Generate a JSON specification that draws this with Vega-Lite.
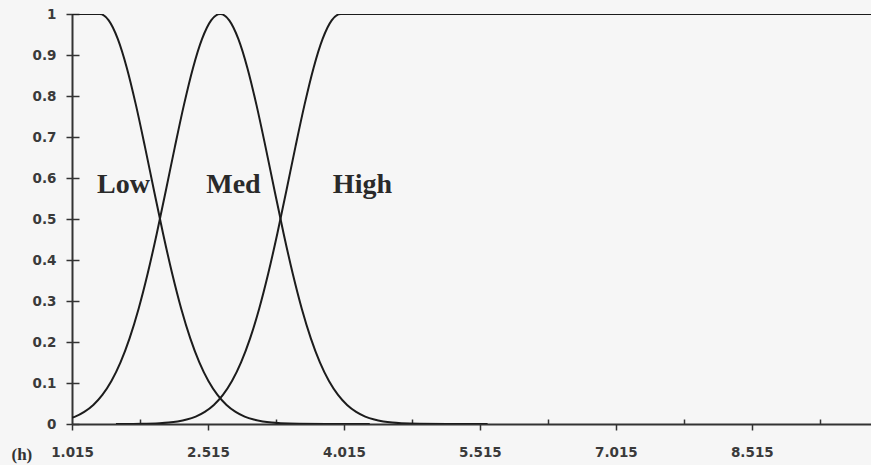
{
  "$schema": "https://vega.github.io/schema/vega-lite/v6.json",
  "autosize": "none",
  "width": 799,
  "height": 410,
  "padding": {"left": 72, "top": 14, "right": 0, "bottom": 41},
  "background": "#f6f6f6",
  "config": {"view": {"stroke": null}},
  "datasets": {
    "curves": [
      {"set": "Low", "x": 1.015, "mu": 1},
      {"set": "Low", "x": 1.32, "mu": 1},
      {"set": "Low", "x": 1.42, "mu": 0.9845},
      {"set": "Low", "x": 1.52, "mu": 0.9393},
      {"set": "Low", "x": 1.62, "mu": 0.8685},
      {"set": "Low", "x": 1.72, "mu": 0.7783},
      {"set": "Low", "x": 1.82, "mu": 0.676},
      {"set": "Low", "x": 1.92, "mu": 0.569},
      {"set": "Low", "x": 2.02, "mu": 0.4642},
      {"set": "Low", "x": 2.12, "mu": 0.367},
      {"set": "Low", "x": 2.22, "mu": 0.2812},
      {"set": "Low", "x": 2.32, "mu": 0.2089},
      {"set": "Low", "x": 2.42, "mu": 0.1503},
      {"set": "Low", "x": 2.52, "mu": 0.1048},
      {"set": "Low", "x": 2.62, "mu": 0.0709},
      {"set": "Low", "x": 2.72, "mu": 0.0464},
      {"set": "Low", "x": 2.82, "mu": 0.0295},
      {"set": "Low", "x": 2.92, "mu": 0.0181},
      {"set": "Low", "x": 3.02, "mu": 0.0108},
      {"set": "Low", "x": 3.12, "mu": 0.0063},
      {"set": "Low", "x": 3.22, "mu": 0.0035},
      {"set": "Low", "x": 3.32, "mu": 0.0019},
      {"set": "Low", "x": 3.52, "mu": 0.0005},
      {"set": "Low", "x": 3.82, "mu": 0.0001},
      {"set": "Low", "x": 4.3, "mu": 0},
      {"set": "Med", "x": 1.015, "mu": 0.0155},
      {"set": "Med", "x": 1.05, "mu": 0.0181},
      {"set": "Med", "x": 1.15, "mu": 0.0295},
      {"set": "Med", "x": 1.25, "mu": 0.0464},
      {"set": "Med", "x": 1.35, "mu": 0.0709},
      {"set": "Med", "x": 1.45, "mu": 0.1048},
      {"set": "Med", "x": 1.55, "mu": 0.1503},
      {"set": "Med", "x": 1.65, "mu": 0.2089},
      {"set": "Med", "x": 1.75, "mu": 0.2812},
      {"set": "Med", "x": 1.85, "mu": 0.367},
      {"set": "Med", "x": 1.95, "mu": 0.4642},
      {"set": "Med", "x": 2.05, "mu": 0.569},
      {"set": "Med", "x": 2.15, "mu": 0.676},
      {"set": "Med", "x": 2.25, "mu": 0.7783},
      {"set": "Med", "x": 2.35, "mu": 0.8685},
      {"set": "Med", "x": 2.45, "mu": 0.9393},
      {"set": "Med", "x": 2.55, "mu": 0.9845},
      {"set": "Med", "x": 2.65, "mu": 1},
      {"set": "Med", "x": 2.75, "mu": 0.9845},
      {"set": "Med", "x": 2.85, "mu": 0.9393},
      {"set": "Med", "x": 2.95, "mu": 0.8685},
      {"set": "Med", "x": 3.05, "mu": 0.7783},
      {"set": "Med", "x": 3.15, "mu": 0.676},
      {"set": "Med", "x": 3.25, "mu": 0.569},
      {"set": "Med", "x": 3.35, "mu": 0.4642},
      {"set": "Med", "x": 3.45, "mu": 0.367},
      {"set": "Med", "x": 3.55, "mu": 0.2812},
      {"set": "Med", "x": 3.65, "mu": 0.2089},
      {"set": "Med", "x": 3.75, "mu": 0.1503},
      {"set": "Med", "x": 3.85, "mu": 0.1048},
      {"set": "Med", "x": 3.95, "mu": 0.0709},
      {"set": "Med", "x": 4.05, "mu": 0.0464},
      {"set": "Med", "x": 4.15, "mu": 0.0295},
      {"set": "Med", "x": 4.25, "mu": 0.0181},
      {"set": "Med", "x": 4.35, "mu": 0.0108},
      {"set": "Med", "x": 4.45, "mu": 0.0063},
      {"set": "Med", "x": 4.55, "mu": 0.0035},
      {"set": "Med", "x": 4.65, "mu": 0.0019},
      {"set": "Med", "x": 4.85, "mu": 0.0005},
      {"set": "Med", "x": 5.15, "mu": 0.0001},
      {"set": "Med", "x": 5.6, "mu": 0},
      {"set": "High", "x": 1.5, "mu": 0},
      {"set": "High", "x": 1.78, "mu": 0.0005},
      {"set": "High", "x": 1.98, "mu": 0.0019},
      {"set": "High", "x": 2.08, "mu": 0.0035},
      {"set": "High", "x": 2.18, "mu": 0.0063},
      {"set": "High", "x": 2.28, "mu": 0.0108},
      {"set": "High", "x": 2.38, "mu": 0.0181},
      {"set": "High", "x": 2.48, "mu": 0.0295},
      {"set": "High", "x": 2.58, "mu": 0.0464},
      {"set": "High", "x": 2.68, "mu": 0.0709},
      {"set": "High", "x": 2.78, "mu": 0.1048},
      {"set": "High", "x": 2.88, "mu": 0.1503},
      {"set": "High", "x": 2.98, "mu": 0.2089},
      {"set": "High", "x": 3.08, "mu": 0.2812},
      {"set": "High", "x": 3.18, "mu": 0.367},
      {"set": "High", "x": 3.28, "mu": 0.4642},
      {"set": "High", "x": 3.38, "mu": 0.569},
      {"set": "High", "x": 3.48, "mu": 0.676},
      {"set": "High", "x": 3.58, "mu": 0.7783},
      {"set": "High", "x": 3.68, "mu": 0.8685},
      {"set": "High", "x": 3.78, "mu": 0.9393},
      {"set": "High", "x": 3.88, "mu": 0.9845},
      {"set": "High", "x": 3.98, "mu": 1},
      {"set": "High", "x": 9.83, "mu": 1}
    ],
    "labels": [
      {"label": "Low", "x": 1.583, "mu": 0.563},
      {"label": "Med", "x": 2.796, "mu": 0.563},
      {"label": "High", "x": 4.219, "mu": 0.563}
    ]
  },
  "resolve": {"axis": {"x": "independent", "y": "independent"}},
  "layer": [
    {
      "data": {"name": "curves"},
      "mark": {"type": "line", "color": "#1c1c1c", "strokeWidth": 2, "interpolate": "monotone", "clip": true},
      "encoding": {
        "x": {
          "field": "x", "type": "quantitative",
          "scale": {"domain": [1.015, 9.83], "nice": false, "zero": false},
          "axis": {
            "orient": "bottom",
            "values": [1.015, 2.515, 4.015, 5.515, 7.015, 8.515],
            "format": ".3f",
            "labelFlush": false,
            "labelOverlap": false,
            "labelFont": "DejaVu Sans",
            "labelFontWeight": "bold",
            "labelFontSize": 13.5,
            "labelColor": "#3a3a3a",
            "labelPadding": 15,
            "tickSize": 6,
            "tickColor": "#333",
            "tickWidth": 1.5,
            "domainColor": "#333",
            "domainWidth": 2,
            "grid": false,
            "title": "(h)",
            "titleX": -61,
            "titleY": 35,
            "titleAlign": "left",
            "titleBaseline": "alphabetic",
            "titleFont": "Liberation Serif",
            "titleFontWeight": "bold",
            "titleFontSize": 17,
            "titleColor": "#333"
          }
        },
        "y": {
          "field": "mu", "type": "quantitative",
          "scale": {"domain": [0, 1], "nice": false},
          "axis": {
            "orient": "left",
            "values": [0, 0.1, 0.2, 0.3, 0.4, 0.5, 0.6, 0.7, 0.8, 0.9, 1],
            "format": "~g",
            "labelFlush": false,
            "labelOverlap": false,
            "labelFont": "DejaVu Sans",
            "labelFontWeight": "bold",
            "labelFontSize": 13.5,
            "labelColor": "#3a3a3a",
            "labelPadding": 10,
            "tickSize": 6,
            "tickColor": "#333",
            "tickWidth": 1.5,
            "domainColor": "#333",
            "domainWidth": 2,
            "grid": false,
            "title": null
          }
        },
        "detail": {"field": "set", "type": "nominal"}
      }
    },
    {
      "data": {"name": "labels"},
      "mark": {"type": "text", "font": "Liberation Serif", "fontWeight": "bold", "fontSize": 28, "color": "#2a2a2a", "baseline": "alphabetic", "align": "center"},
      "encoding": {
        "x": {
          "field": "x", "type": "quantitative",
          "axis": {
            "orient": "bottom",
            "values": [1.765, 3.265, 4.765, 6.265, 7.765, 9.265],
            "labels": false,
            "domain": false,
            "grid": false,
            "tickSize": -5,
            "tickColor": "#333",
            "tickWidth": 1.5,
            "title": null
          }
        },
        "y": {
          "field": "mu", "type": "quantitative",
          "axis": {
            "orient": "left",
            "values": [0, 0.1, 0.2, 0.3, 0.4, 0.5, 0.6, 0.7, 0.8, 0.9, 1],
            "labels": false,
            "domain": false,
            "grid": false,
            "tickSize": -7,
            "tickColor": "#333",
            "tickWidth": 1.5,
            "title": null
          }
        },
        "text": {"field": "label", "type": "nominal"}
      }
    }
  ]
}
